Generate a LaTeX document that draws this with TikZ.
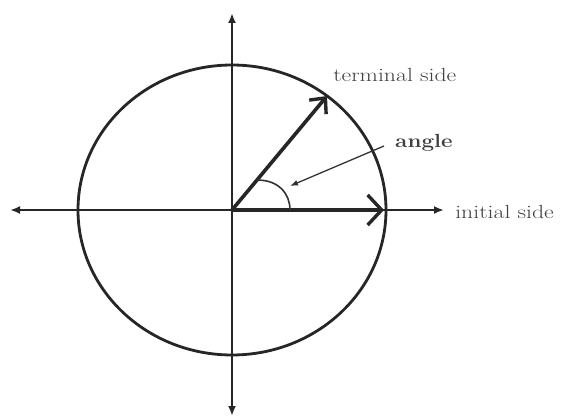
\documentclass[tikz,border=0pt]{standalone}
\usetikzlibrary{arrows.meta}
\begin{document}
\begin{tikzpicture}[x=1pt,y=-1pt,
  axis/.style={line width=2.4pt,draw=black!85,-{Latex[length=10pt,width=8pt]}},
  side/.style={line width=3.6pt,draw=black!85},
  lbl/.style={font=\fontsize{19}{21}\selectfont,text=black!75,xscale=1.25,transform shape,inner sep=0pt},
  thin/.style={line width=1.3pt,draw=black!80}]
\useasboundingbox (0,0) rectangle (566,420);
\coordinate (O) at (232,210);
\coordinate (L) at (10,210);
\coordinate (R) at (444,210);
\coordinate (T) at (232,13);
\coordinate (B) at (232,416);
\coordinate (TS) at (327,96);
\coordinate (IS) at (384,210);
\coordinate (A1) at (257,180);
\coordinate (A2) at (290,210);
\coordinate (P1) at (384,146);
\coordinate (P2) at (290,186);
% circle
\draw[line width=2.8pt,draw=black!85] (O) ellipse [x radius=154, y radius=145];
% axes
\draw[axis] (O) -- (L);
\draw[axis] (O) -- (R);
\draw[axis] (O) -- (T);
\draw[axis] (O) -- (B);
% sides
\draw[side,-{Straight Barb[length=12pt,width=22pt,line width=3.4pt]}] (O) -- (TS);
\draw[side,-{Straight Barb[length=14pt,width=30pt,line width=3.4pt]}] (O) -- (IS);
% angle arc
\draw[thin,line width=1.6pt] (A1) .. controls (279,180) and (290,194) .. (A2);
% pointer
\draw[thin,-{Latex[length=8pt,width=6pt]}] (P1) -- (P2);
% labels
\node[lbl,anchor=west] (term) at (333,75) {terminal side};
\node[lbl,anchor=west,font=\fontsize{19}{21}\selectfont\bfseries,xscale=1.18/1.25] (ang) at (395,143) {angle};
\node[lbl,anchor=west] (init) at (455,212) {initial side};
\end{tikzpicture}
\end{document}
